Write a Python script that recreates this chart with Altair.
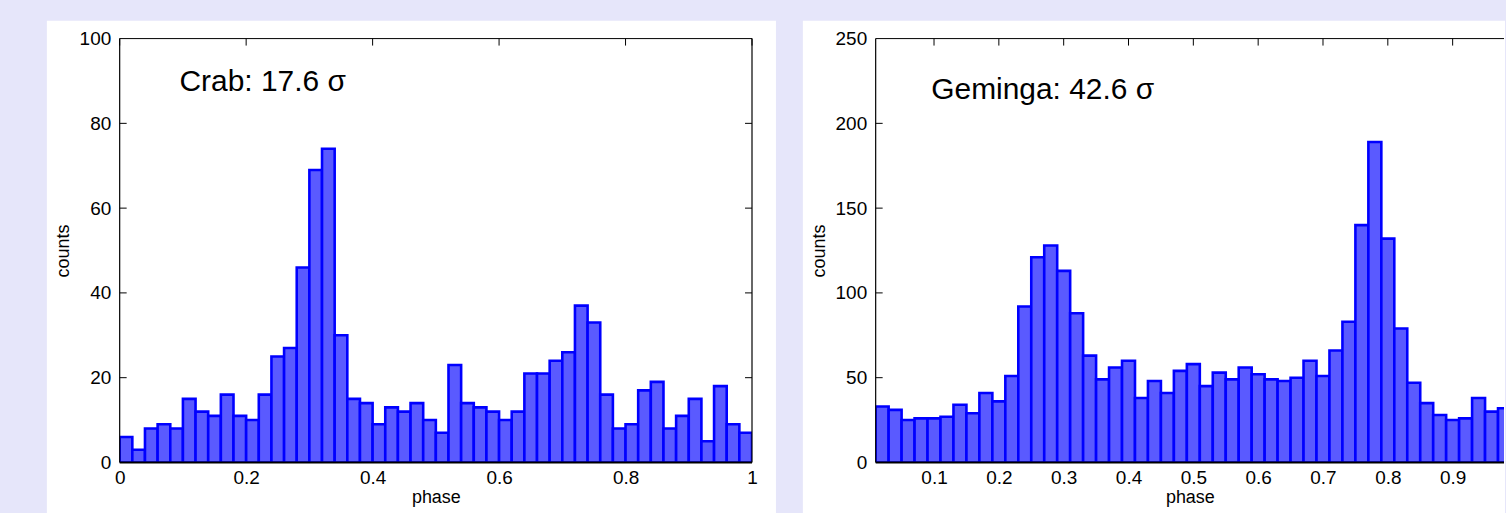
import altair as alt
import pandas as pd

# ---- data ----
crab_counts = [6, 3, 8, 9, 8, 15, 12, 11, 16, 11,
               10, 16, 25, 27, 46, 69, 74, 30, 15, 14,
               9, 13, 12, 14, 10, 7, 23, 14, 13, 12,
               10, 12, 21, 21, 24, 26, 37, 33, 16, 8,
               9, 17, 19, 8, 11, 15, 5, 18, 9, 7]
geminga_counts = [33, 31, 25, 26, 26, 27, 34, 29, 41, 36,
                  51, 92, 121, 128, 113, 88, 63, 49, 56, 60,
                  38, 48, 41, 54, 58, 45, 53, 49, 56, 52,
                  49, 48, 50, 60, 51, 66, 83, 140, 189, 132,
                  79, 47, 35, 28, 25, 26, 38, 30, 32, 33]
crab_bin_start = 0.0
geminga_bin_start = 0.01
bin_width = 0.02

crab_xticks = [0, 0.2, 0.4, 0.6, 0.8, 1.0]
crab_yticks = [0, 20, 40, 60, 80, 100]
geminga_xticks = [0.1, 0.2, 0.3, 0.4, 0.5, 0.6, 0.7, 0.8, 0.9]
geminga_yticks = [0, 50, 100, 150, 200, 250]

crab_label = "Crab: 17.6 σ"
crab_label_pos = (0.0946, 87.7)
geminga_label = "Geminga: 42.6 σ"
geminga_label_pos = (0.0957, 214.3)

FONT = "Liberation Sans"
H = 425
TICK = 7


def panel(counts, start, xdomain, ymax, xticks, yticks, label, label_pos,
          W, right_margin, right_frame):
    lo = [round(start + bin_width * i, 4) for i in range(len(counts))]
    hi = [round(v + bin_width, 4) for v in lo]
    df = pd.DataFrame({"phase": lo, "phase2": hi, "count": counts,
                       "base": [0] * len(counts)})
    one = pd.DataFrame({"a": [0]})

    xs = alt.Scale(domain=xdomain, nice=False, zero=False)
    ys = alt.Scale(domain=[0, ymax], nice=False, zero=True)

    xaxis = alt.Axis(values=xticks, format="~g", title="phase", labelFlush=False,
                     ticks=False, tickSize=0, domain=False, grid=False,
                     labelFontSize=19, titleFontSize=18, labelPadding=6,
                     titlePadding=1, labelColor="black", titleColor="black",
                     titleFontWeight="normal", labelFont=FONT, titleFont=FONT,
                     zindex=1, labelOverlap=False)
    yaxis = alt.Axis(values=yticks, title="counts", ticks=False, tickSize=0,
                     domain=False, grid=False, labelFontSize=19, titleFontSize=18,
                     labelPadding=9, titlePadding=7, labelColor="black",
                     titleColor="black", titleFontWeight="normal",
                     labelFont=FONT, titleFont=FONT, zindex=1, labelOverlap=False)

    def X(f="phase:Q"):
        return alt.X(f, scale=xs, axis=xaxis)

    def Y(f="count:Q"):
        return alt.Y(f, scale=ys, axis=yaxis)

    bg = alt.Chart(one).mark_rect(fill="white", strokeWidth=0).encode(
        x=alt.value(-73), x2=alt.value(W + right_margin),
        y=alt.value(-18), y2=alt.value(H + 51))

    bars = alt.Chart(df).mark_rect(fill="#5a5aff", stroke="#0000ff",
                                   strokeWidth=2.6, clip=True).encode(
        x=X(), x2="phase2:Q", y=Y(), y2="base:Q")

    ytick_df = pd.DataFrame({"count": yticks[1:-1]})
    xtick_df = pd.DataFrame({"phase": xticks})
    left_ticks = alt.Chart(ytick_df).mark_rule(color="black", strokeWidth=1).encode(
        y=Y(), x=alt.value(0), x2=alt.value(TICK))
    top_ticks = alt.Chart(xtick_df).mark_rule(color="black", strokeWidth=1).encode(
        x=X(), y=alt.value(0), y2=alt.value(TICK))

    layers = [bg, bars, left_ticks, top_ticks]
    if right_frame:
        right_ticks = alt.Chart(ytick_df).mark_rule(color="black", strokeWidth=1).encode(
            y=Y(), x=alt.value(W - TICK), x2=alt.value(W))
        layers.append(right_ticks)

    frame = [
        alt.Chart(one).mark_rule(color="black", strokeWidth=1.2).encode(
            x=alt.value(0), y=alt.value(0), y2=alt.value(H)),
        alt.Chart(one).mark_rule(color="black", strokeWidth=1).encode(
            x=alt.value(0), x2=alt.value(W), y=alt.value(0)),
        alt.Chart(one).mark_rule(color="black", strokeWidth=2).encode(
            x=alt.value(0), x2=alt.value(W), y=alt.value(H)),
    ]
    if right_frame:
        frame.append(alt.Chart(one).mark_rule(color="black", strokeWidth=1.2).encode(
            x=alt.value(W), y=alt.value(0), y2=alt.value(H)))
    layers += frame

    tdf = pd.DataFrame({"phase": [label_pos[0]], "count": [label_pos[1]], "t": [label]})
    text = alt.Chart(tdf).mark_text(fontSize=30, font=FONT, align="left",
                                    baseline="alphabetic", color="black").encode(
        x=X(), y=Y(), text="t:N")
    layers.append(text)

    return alt.layer(*layers).properties(width=W, height=H)


W1 = 634
W2 = 630
left = panel(crab_counts, crab_bin_start, [0, 1], 100, crab_xticks, crab_yticks,
             crab_label, crab_label_pos, W1, 24, True)
right = panel(geminga_counts, geminga_bin_start, [0.01, 0.01 + W2 / 650.0], 250,
              geminga_xticks, geminga_yticks, geminga_label, geminga_label_pos,
              W2, 1, False)

chart = alt.hconcat(left, right, spacing=25).properties(
    background="#e6e6fa",
    padding={"left": 46, "top": 19, "right": 0, "bottom": 0},
).configure_view(strokeWidth=0).configure(font=FONT)

chart.save("out.html", embed_options={"renderer": "svg", "actions": False})
